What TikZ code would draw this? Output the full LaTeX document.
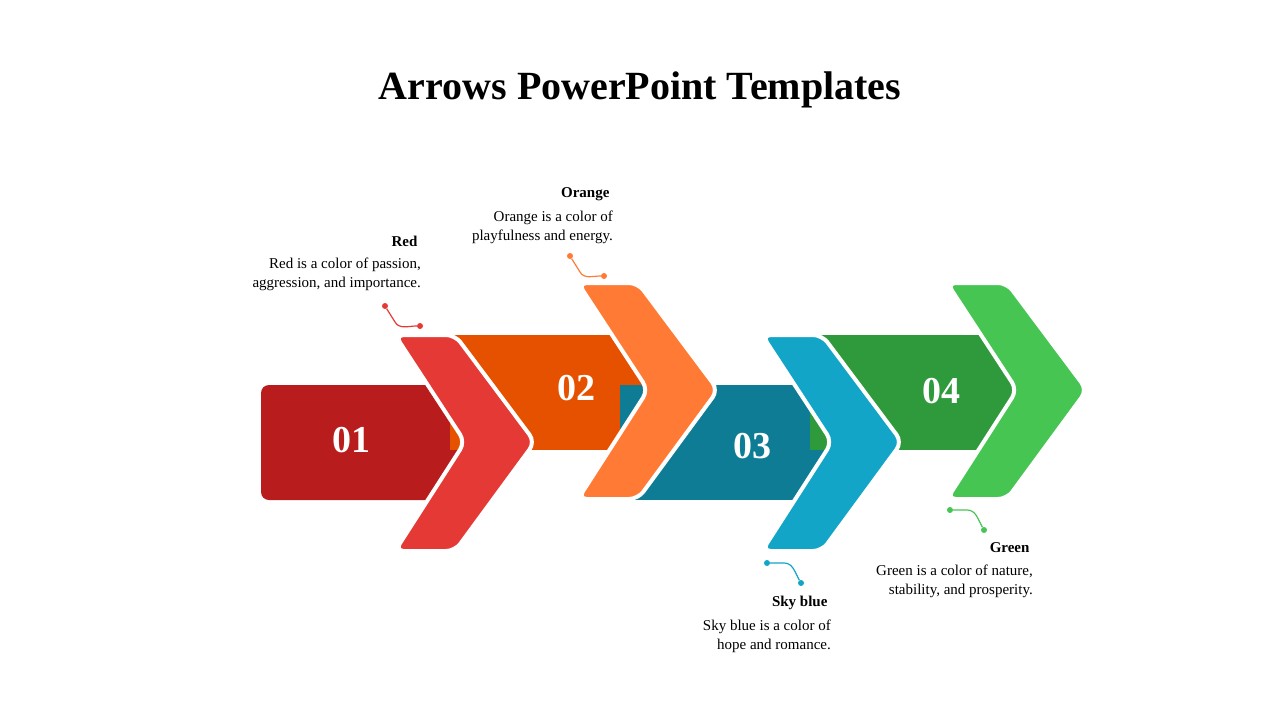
\documentclass[tikz,border=0pt]{standalone}
\usepackage{fontspec}
\setmainfont{Liberation Serif}
\definecolor{redbar}{HTML}{B91C1C}
\definecolor{redchev}{HTML}{E53935}
\definecolor{orangebar}{HTML}{E65100}
\definecolor{orangechev}{HTML}{FF7B35}
\definecolor{tealbar}{HTML}{0E7C95}
\definecolor{skychev}{HTML}{12A5C8}
\definecolor{greenbar}{HTML}{2E9A3C}
\definecolor{greenchev}{HTML}{47C553}
\newcommand{\chevron}[3]{% colour, left x, top y
  \filldraw[#1, draw=white, line width=4pt, rounded corners=9pt]
    (#2,#3) -- ++(60,0) -- ++(80,107) -- ++(-80,109) -- ++(-60,0) -- ++(70,-109) -- cycle;}
\tikzset{
  num/.style={text=white, font=\fontsize{38}{40}\selectfont\bfseries},
  head/.style={anchor=east, font=\fontsize{15}{18}\selectfont\bfseries},
  body/.style={anchor=north east, align=right, font=\fontsize{15}{19}\selectfont, inner sep=0pt},
  lead/.style={line width=1.2pt},
  dot/.style={circle, fill, inner sep=0pt, minimum size=6pt}
}
\begin{document}
\begin{tikzpicture}[x=1pt, y=-1pt]
    \useasboundingbox (0,0) rectangle (1280,720);

    % Title
    \node[font=\fontsize{40}{44}\selectfont\bfseries] (title) at (640,90) {Arrows PowerPoint Templates};

    % Bars
    \fill[redbar, rounded corners=8pt] (261,385) rectangle (480,500);
    \fill[orangebar] (450,335) rectangle (660,450);
    \fill[tealbar] (620,385) rectangle (845,500);
    \fill[greenbar] (810,335) rectangle (1030,450);

    % Chevrons
    \chevron{redchev}{395}{335}
    \chevron{orangechev}{578}{283}
    \chevron{skychev}{762}{335}
    \chevron{greenchev}{947}{283}

    % Numbers
    \node[num] (n1) at (351,440) {01};
    \node[num] (n2) at (576,388) {02};
    \node[num] (n3) at (752,446) {03};
    \node[num] (n4) at (941,391) {04};

    % Leaders
    \node[dot, redchev] (r1) at (385,306) {};
    \node[dot, redchev] (r2) at (420,326) {};
    \draw[lead, redchev] (r1) -- (395,322) to[out=-60, in=180] (r2);
    \node[dot, orangechev] (o1) at (570,256) {};
    \node[dot, orangechev] (o2) at (604,276) {};
    \draw[lead, orangechev] (o1) -- (580,272) to[out=-60, in=180] (o2);
    \node[dot, skychev] (s1) at (767,563) {};
    \node[dot, skychev] (s2) at (801,583) {};
    \draw[lead, skychev] (s1) -- (784,563) to[out=0, in=120] (s2);
    \node[dot, greenchev] (g1) at (950,510) {};
    \node[dot, greenchev] (g2) at (984,530) {};
    \draw[lead, greenchev] (g1) -- (967,510) to[out=0, in=120] (g2);

    % Texts
    \node[head] (redhead) at (421,241) {Red};
    \node[body] (redtext) at (421,258) {Red is a color of passion,\\aggression, and importance.};
    \node[head] (orangehead) at (613,194) {Orange};
    \node[body] (orangetext) at (613,211) {Orange is a color of\\playfulness and energy.};
    \node[head] (skyhead) at (831,603) {Sky blue};
    \node[body] (skytext) at (831,620) {Sky blue is a color of\\hope and romance.};
    \node[head] (greenhead) at (1033,548) {Green};
    \node[body] (greentext) at (1033,565) {Green is a color of nature,\\stability, and prosperity.};
\end{tikzpicture}
\end{document}
